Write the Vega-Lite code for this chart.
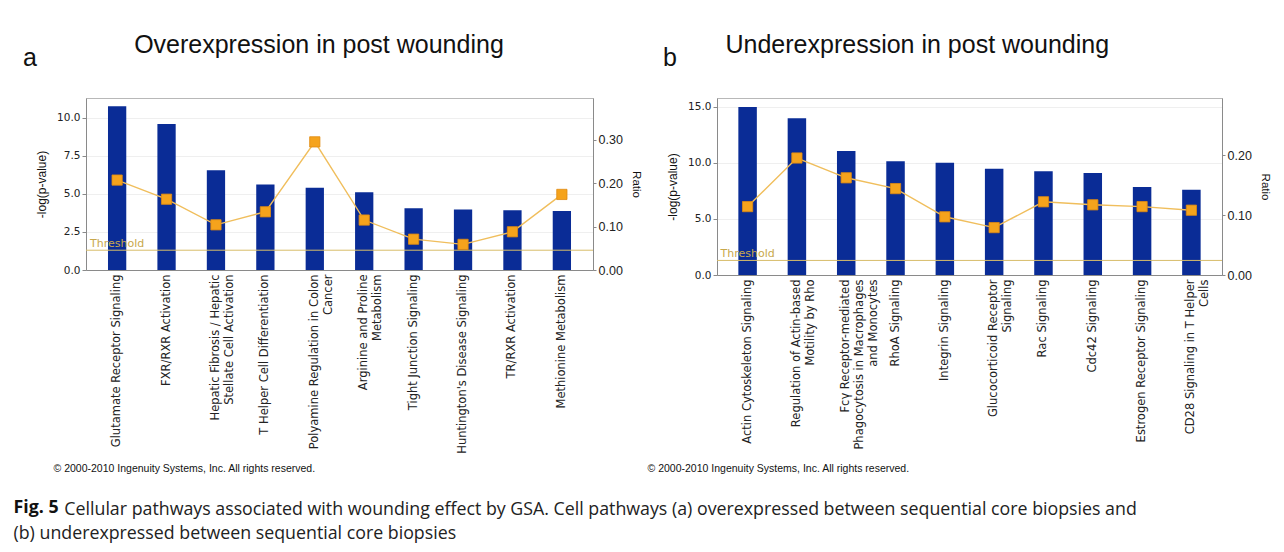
{
  "$schema": "https://vega.github.io/schema/vega-lite/v6.json",
  "background": "white",
  "padding": {"left": 13, "top": 32, "right": 0, "bottom": 0},
  "config": {
    "view": {"stroke": "#b8b8b8", "strokeWidth": 1},
    "axis": {
      "labelFont": "DejaVu Sans",
      "titleFont": "Liberation Sans",
      "titleFontWeight": "normal",
      "domainColor": "#8a8a8a",
      "tickColor": "#8a8a8a",
      "labelColor": "#222222",
      "titleColor": "#111111",
      "labelOverlap": false
    },
    "title": {"fontWeight": "normal", "color": "#111111"}
  },
  "datasets": {
    "over": [
      {"pathway": "Glutamate Receptor Signaling", "neglogp": 10.75, "ratio": 0.207},
      {"pathway": "FXR/RXR Activation", "neglogp": 9.6, "ratio": 0.163},
      {"pathway": "Hepatic Fibrosis / Hepatic|Stellate Cell Activation", "neglogp": 6.56, "ratio": 0.104},
      {"pathway": "T Helper Cell Differentiation", "neglogp": 5.62, "ratio": 0.134},
      {"pathway": "Polyamine Regulation in Colon|Cancer", "neglogp": 5.4, "ratio": 0.295},
      {"pathway": "Arginine and Proline|Metabolism", "neglogp": 5.1, "ratio": 0.115},
      {"pathway": "Tight Junction Signaling", "neglogp": 4.06, "ratio": 0.071},
      {"pathway": "Huntington's Disease Signaling", "neglogp": 3.97, "ratio": 0.059},
      {"pathway": "TR/RXR Activation", "neglogp": 3.93, "ratio": 0.088},
      {"pathway": "Methionine Metabolism", "neglogp": 3.88, "ratio": 0.174}
    ],
    "under": [
      {"pathway": "Actin Cytoskeleton Signaling", "neglogp": 15.0, "ratio": 0.114},
      {"pathway": "Regulation of Actin-based|Motility by Rho", "neglogp": 14.0, "ratio": 0.195},
      {"pathway": "Fcγ Receptor-mediated|Phagocytosis in Macrophages|and Monocytes", "neglogp": 11.07, "ratio": 0.162},
      {"pathway": "RhoA Signaling", "neglogp": 10.15, "ratio": 0.144},
      {"pathway": "Integrin Signaling", "neglogp": 10.03, "ratio": 0.097},
      {"pathway": "Glucocorticoid Receptor|Signaling", "neglogp": 9.49, "ratio": 0.079},
      {"pathway": "Rac Signaling", "neglogp": 9.26, "ratio": 0.122},
      {"pathway": "Cdc42 Signaling", "neglogp": 9.1, "ratio": 0.117},
      {"pathway": "Estrogen Receptor Signaling", "neglogp": 7.86, "ratio": 0.114},
      {"pathway": "CD28 Signaling in T Helper|Cells", "neglogp": 7.62, "ratio": 0.108}
    ],
    "threshold": [{"threshold": 1.3, "label": "Threshold"}]
  },
  "title": {
    "text": ["\u200b\u00a0\u00a0\u00a0\u00a0\u00a0\u00a0\u00a0\u00a0\u00a0\u00a0\u00a0Cellular pathways associated with wounding effect by GSA. Cell pathways (a) overexpressed between sequential core biopsies and", "(b) underexpressed between sequential core biopsies"],
    "orient": "bottom",
    "anchor": "start",
    "font": "Open Sans",
    "fontSize": 17.8,
    "lineHeight": 24,
    "color": "#222222",
    "offset": 0,
    "dx": 0,
    "dy": -16
  },
  "vconcat": [
    {
      "title": {
        "text": "Fig. 5",
        "orient": "bottom",
        "anchor": "start",
        "font": "Open Sans",
        "fontSize": 17.8,
        "fontWeight": "bold",
        "color": "#111111",
        "offset": 25,
        "dx": -9
      },
      "spacing": 4,
      "hconcat": [
        {
          "width": 507,
          "height": 172,
          "title": {
            "text": ["\u200b\u00a0\u00a0\u00a0\u00a0\u00a0\u00a0\u00a0\u00a0\u00a0\u00a0\u00a0\u00a0\u00a0\u00a0\u00a0\u00a0Overexpression in post wounding", "a"],
            "anchor": "start",
            "frame": "group",
            "dx": -63,
            "offset": 27,
            "lineHeight": 13,
            "font": "Liberation Sans",
            "fontSize": 25
          },
          "data": {"name": "over"},
          "layer": [
            {
              "layer": [
                {
                  "mark": {"type": "bar", "color": "#0a2c96"},
                  "encoding": {
                    "x": {
                      "field": "pathway",
                      "type": "nominal",
                      "sort": null,
                      "scale": {"paddingInner": 0.63, "paddingOuter": 0.445},
                      "axis": {
                        "title": "© 2000-2010 Ingenuity Systems, Inc. All rights reserved.",
                        "titleX": -33,
                        "titleY": 198,
                        "titleAlign": "left",
                        "titleAnchor": null,
                        "titleBaseline": "middle",
                        "titleFont": "Liberation Sans",
                        "titleFontSize": 10.5,
                        "labelAngle": -90,
                        "labelAlign": "right",
                        "labelBaseline": "middle",
                        "labelExpr": "split(datum.label, '|')",
                        "labelLineHeight": 14,
                        "labelFontSize": 11.5,
                        "labelLimit": 400,
                        "labelPadding": 4,
                        "ticks": false
                      }
                    },
                    "y": {
                      "field": "neglogp",
                      "type": "quantitative",
                      "scale": {"domain": [0, 11.3], "nice": false},
                      "axis": {
                        "title": "-log(p-value)",
                        "values": [0, 2.5, 5, 7.5, 10],
                        "format": ".1f",
                        "labelFontSize": 10.5,
                        "tickSize": 4,
                        "grid": true,
                        "gridColor": "#efefef",
                        "titleFontSize": 12,
                        "titlePadding": 8
                      }
                    }
                  }
                },
                {
                  "data": {"name": "threshold"},
                  "mark": {"type": "rule", "color": "#d8bd6a", "strokeWidth": 1},
                  "encoding": {"y": {"field": "threshold", "type": "quantitative"}}
                },
                {
                  "data": {"name": "threshold"},
                  "mark": {"type": "text", "color": "#c8a84c", "font": "DejaVu Sans", "fontSize": 11, "baseline": "bottom", "align": "center", "dy": -1},
                  "encoding": {
                    "x": {"datum": "Glutamate Receptor Signaling", "type": "nominal"},
                    "y": {"field": "threshold", "type": "quantitative"},
                    "text": {"field": "label"}
                  }
                }
              ]
            },
            {
              "layer": [
                {
                  "mark": {"type": "line", "color": "#f0be5c", "strokeWidth": 1.4},
                  "encoding": {
                    "x": {"field": "pathway", "type": "nominal", "sort": null},
                    "y": {
                      "field": "ratio",
                      "type": "quantitative",
                      "scale": {"domain": [0, 0.396], "nice": false},
                      "axis": {
                        "orient": "right",
                        "title": "Ratio",
                        "values": [0, 0.05, 0.1, 0.15, 0.2, 0.25, 0.3, 0.35],
                        "format": ".2f",
                        "labelFont": "Liberation Sans",
                        "labelFontSize": 12.5,
                        "tickSize": 3,
                        "grid": false,
                        "titleFontSize": 11.5,
                        "titlePadding": 8
                      }
                    }
                  }
                },
                {
                  "mark": {"type": "point", "shape": "square", "filled": true, "size": 105, "color": "#f5a31c", "stroke": "#e08a10", "strokeWidth": 0.8, "opacity": 1},
                  "encoding": {
                    "x": {"field": "pathway", "type": "nominal", "sort": null},
                    "y": {"field": "ratio", "type": "quantitative"}
                  }
                }
              ]
            }
          ],
          "resolve": {"scale": {"y": "independent"}}
        },
        {
          "width": 505,
          "height": 177,
          "title": {
            "text": ["\u200b\u00a0\u00a0\u00a0\u00a0\u00a0\u00a0\u00a0\u00a0\u00a0Underexpression in post wounding", "b"],
            "anchor": "start",
            "frame": "group",
            "dx": -54,
            "offset": 27,
            "lineHeight": 13,
            "font": "Liberation Sans",
            "fontSize": 25
          },
          "data": {"name": "under"},
          "layer": [
            {
              "layer": [
                {
                  "mark": {"type": "bar", "color": "#0a2c96"},
                  "encoding": {
                    "x": {
                      "field": "pathway",
                      "type": "nominal",
                      "sort": null,
                      "scale": {"paddingInner": 0.625, "paddingOuter": 0.433},
                      "axis": {
                        "title": "© 2000-2010 Ingenuity Systems, Inc. All rights reserved.",
                        "titleX": -70,
                        "titleY": 193,
                        "titleAlign": "left",
                        "titleAnchor": null,
                        "titleBaseline": "middle",
                        "titleFont": "Liberation Sans",
                        "titleFontSize": 10.5,
                        "labelAngle": -90,
                        "labelAlign": "right",
                        "labelBaseline": "middle",
                        "labelExpr": "split(datum.label, '|')",
                        "labelLineHeight": 14,
                        "labelFontSize": 11.5,
                        "labelLimit": 400,
                        "labelPadding": 4,
                        "ticks": false
                      }
                    },
                    "y": {
                      "field": "neglogp",
                      "type": "quantitative",
                      "scale": {"domain": [0, 15.8], "nice": false},
                      "axis": {
                        "title": "-log(p-value)",
                        "values": [0, 2.5, 5, 7.5, 10, 12.5, 15],
                        "format": ".1f",
                        "labelFontSize": 10.5,
                        "tickSize": 4,
                        "grid": true,
                        "gridColor": "#efefef",
                        "titleFontSize": 12,
                        "titlePadding": 8
                      }
                    }
                  }
                },
                {
                  "data": {"name": "threshold"},
                  "mark": {"type": "rule", "color": "#d8bd6a", "strokeWidth": 1},
                  "encoding": {"y": {"field": "threshold", "type": "quantitative"}}
                },
                {
                  "data": {"name": "threshold"},
                  "mark": {"type": "text", "color": "#c8a84c", "font": "DejaVu Sans", "fontSize": 11, "baseline": "bottom", "align": "center", "dy": -1},
                  "encoding": {
                    "x": {"datum": "Actin Cytoskeleton Signaling", "type": "nominal"},
                    "y": {"field": "threshold", "type": "quantitative"},
                    "text": {"field": "label"}
                  }
                }
              ]
            },
            {
              "layer": [
                {
                  "mark": {"type": "line", "color": "#f0be5c", "strokeWidth": 1.4},
                  "encoding": {
                    "x": {"field": "pathway", "type": "nominal", "sort": null},
                    "y": {
                      "field": "ratio",
                      "type": "quantitative",
                      "scale": {"domain": [0, 0.295], "nice": false},
                      "axis": {
                        "orient": "right",
                        "title": "Ratio",
                        "values": [0, 0.05, 0.1, 0.15, 0.2, 0.25],
                        "format": ".2f",
                        "labelFont": "Liberation Sans",
                        "labelFontSize": 12.5,
                        "tickSize": 3,
                        "grid": false,
                        "titleFontSize": 11.5,
                        "titlePadding": 8
                      }
                    }
                  }
                },
                {
                  "mark": {"type": "point", "shape": "square", "filled": true, "size": 105, "color": "#f5a31c", "stroke": "#e08a10", "strokeWidth": 0.8, "opacity": 1},
                  "encoding": {
                    "x": {"field": "pathway", "type": "nominal", "sort": null},
                    "y": {"field": "ratio", "type": "quantitative"}
                  }
                }
              ]
            }
          ],
          "resolve": {"scale": {"y": "independent"}}
        }
      ]
    }
  ]
}
